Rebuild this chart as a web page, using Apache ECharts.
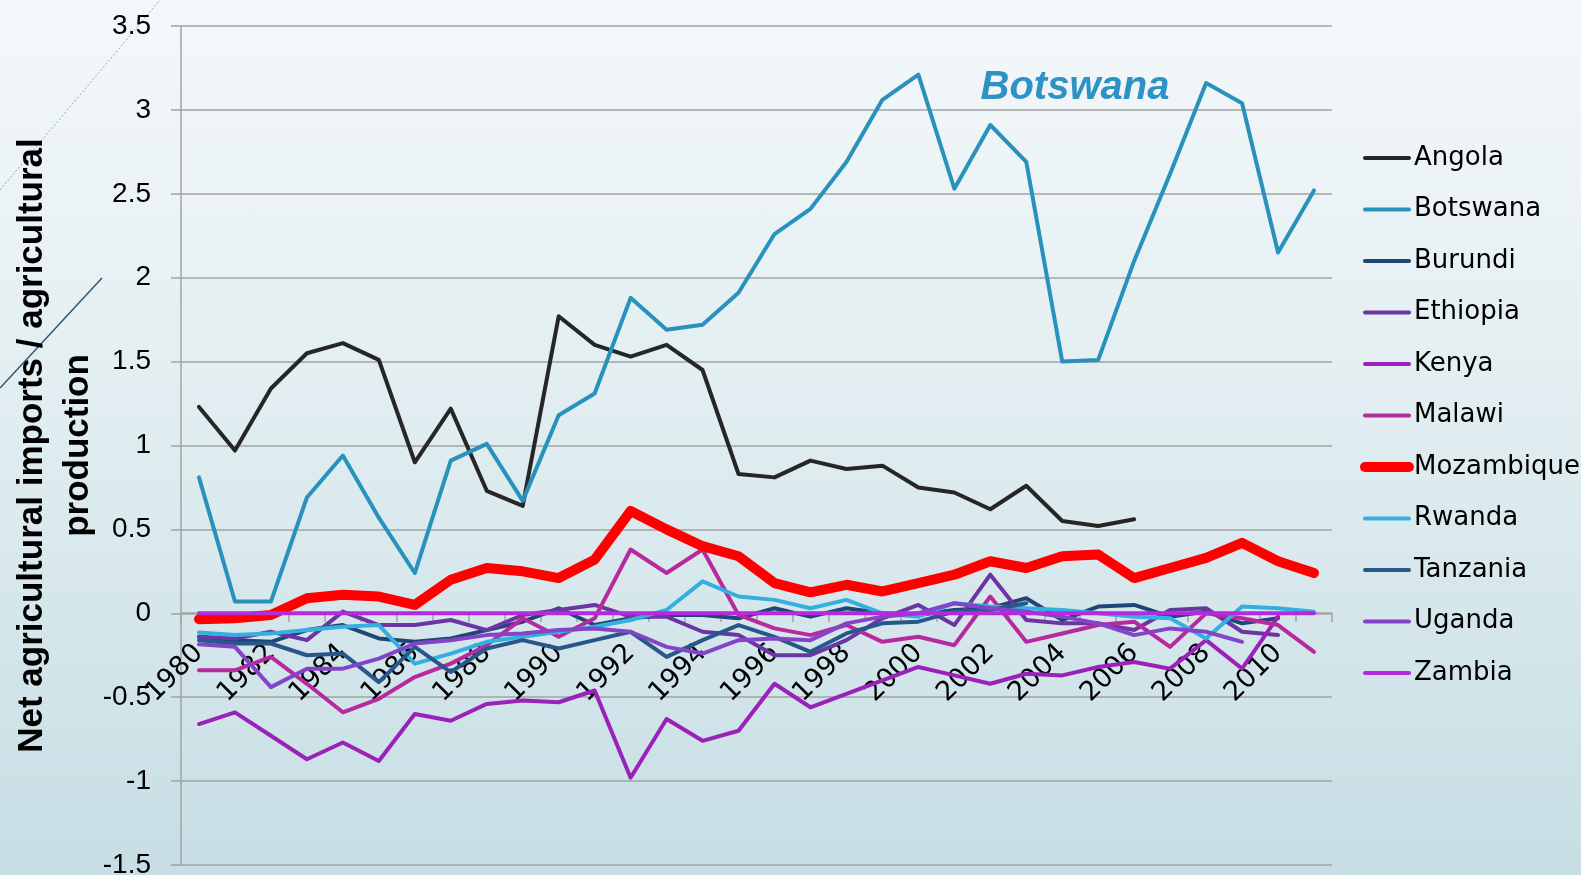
<!DOCTYPE html>
<html>
<head>
<meta charset="utf-8">
<script src="https://cdn.jsdelivr.net/npm/echarts@6/dist/echarts.min.js"></script>
<style>
    html, body { margin: 0; padding: 0; }
    .chart {
        width: 1581px;
        height: 875px;
        background: linear-gradient(to bottom, #f4f8fa 0%, #e2eef1 45%, #c6dee4 100%);
    }
</style>
</head>
<body>
<div class="chart" id="chart-line"></div>
<script>
// years on the category axis
const years = ['1980', '1981', '1982', '1983', '1984', '1985', '1986', '1987', '1988', '1989',
    '1990', '1991', '1992', '1993', '1994', '1995', '1996', '1997', '1998', '1999',
    '2000', '2001', '2002', '2003', '2004', '2005', '2006', '2007', '2008', '2009',
    '2010', '2011']

// net agricultural imports / agricultural production
const angola = [1.23, 0.97, 1.34, 1.55, 1.61, 1.51, 0.90, 1.22, 0.73, 0.64, 1.77, 1.60, 1.53, 1.60, 1.45, 0.83,
    0.81, 0.91, 0.86, 0.88, 0.75, 0.72, 0.62, 0.76, 0.55, 0.52, 0.56, null, null, null, null, null]
const botswana = [0.81, 0.07, 0.07, 0.69, 0.94, 0.57, 0.24, 0.91, 1.01, 0.67, 1.18, 1.31, 1.88, 1.69, 1.72, 1.91,
    2.26, 2.41, 2.69, 3.06, 3.21, 2.53, 2.91, 2.69, 1.50, 1.51, 2.10, 2.62, 3.16, 3.04, 2.15, 2.52]
const burundi = [-0.14, -0.16, -0.17, -0.10, -0.07, -0.15, -0.17, -0.15, -0.10, -0.05, 0.03, -0.07, -0.03, -0.01, -0.01, -0.03,
    0.03, -0.02, 0.03, 0.00, -0.01, 0.02, 0.03, 0.09, -0.04, 0.04, 0.05, -0.02, 0.01, -0.06, -0.03, null]
const ethiopia = [-0.14, -0.15, -0.11, -0.16, 0.01, -0.07, -0.07, -0.04, -0.10, -0.01, 0.02, 0.05, -0.02, -0.02, -0.11, -0.13,
    -0.25, -0.25, -0.16, -0.03, 0.05, -0.07, 0.23, -0.04, -0.06, -0.06, -0.10, 0.02, 0.03, -0.11, -0.13, null]
const kenya = [-0.66, -0.59, -0.73, -0.87, -0.77, -0.88, -0.60, -0.64, -0.54, -0.52, -0.53, -0.46, -0.98, -0.63, -0.76, -0.70,
    -0.42, -0.56, -0.48, -0.40, -0.32, -0.37, -0.42, -0.36, -0.37, -0.32, -0.29, -0.33, -0.16, -0.33, -0.02, null]
const malawi = [-0.34, -0.34, -0.26, -0.42, -0.59, -0.51, -0.38, -0.30, -0.19, -0.03, -0.14, -0.03, 0.38, 0.24, 0.38, -0.01,
    -0.09, -0.13, -0.07, -0.17, -0.14, -0.19, 0.10, -0.17, -0.12, -0.07, -0.05, -0.20, 0.00, -0.03, -0.07, -0.23]
const mozambique = [-0.035, -0.03, -0.01, 0.09, 0.11, 0.10, 0.05, 0.20, 0.27, 0.25, 0.21, 0.32, 0.61, 0.50, 0.40, 0.34,
    0.18, 0.125, 0.17, 0.13, 0.18, 0.23, 0.31, 0.27, 0.34, 0.35, 0.21, 0.27, 0.33, 0.42, 0.31, 0.24]
const rwanda = [-0.115, -0.13, -0.12, -0.10, -0.08, -0.07, -0.30, -0.24, -0.17, -0.14, -0.11, -0.08, -0.04, 0.02, 0.19, 0.10,
    0.08, 0.03, 0.08, 0.00, -0.02, 0.06, 0.04, 0.03, 0.02, 0.00, -0.02, -0.03, -0.15, 0.04, 0.03, 0.01]
const tanzania = [-0.16, -0.18, -0.18, -0.25, -0.24, -0.41, -0.20, -0.35, -0.21, -0.16, -0.21, -0.16, -0.11, -0.26, -0.16, -0.07,
    -0.14, -0.23, -0.12, -0.06, -0.05, 0.01, 0.02, 0.06, null, null, null, null, null, null, null, null]
const uganda = [-0.185, -0.20, -0.44, -0.33, -0.33, -0.27, -0.18, -0.16, -0.13, -0.12, -0.10, -0.09, -0.11, -0.20, -0.24, -0.16,
    -0.15, -0.16, -0.06, -0.02, 0.00, 0.06, 0.03, 0.01, -0.02, -0.06, -0.13, -0.09, -0.11, -0.17, null, null]
const zambia = [0, 0, 0, 0, 0, 0, 0, 0, 0, 0, 0, 0, 0, 0, 0, 0,
    0, 0, 0, 0, 0, 0, 0, 0, 0, 0, 0, 0, 0, 0, 0, 0]

const seriesList = [
    { name: 'Angola', value: angola, color: '#262626', width: 4 },
    { name: 'Botswana', value: botswana, color: '#2892bc', width: 4 },
    { name: 'Burundi', value: burundi, color: '#1f4677', width: 4 },
    { name: 'Ethiopia', value: ethiopia, color: '#6b35a3', width: 4 },
    { name: 'Kenya', value: kenya, color: '#9a22bb', width: 4 },
    { name: 'Malawi', value: malawi, color: '#b8299e', width: 4 },
    { name: 'Mozambique', value: mozambique, color: '#ff0000', width: 10 },
    { name: 'Rwanda', value: rwanda, color: '#33b0e0', width: 4 },
    { name: 'Tanzania', value: tanzania, color: '#27578b', width: 4 },
    { name: 'Uganda', value: uganda, color: '#8444c8', width: 4 },
    { name: 'Zambia', value: zambia, color: '#b52ade', width: 4 }
]

const gridColor = '#a3a3a3'
const textFont = '"DejaVu Sans", sans-serif'

function getLineOption(list) {
    let series = []
    list.forEach(item => {
        series.push({
            name: item.name,
            type: 'line',
            symbol: 'none',
            showSymbol: false,
            connectNulls: false,
            lineStyle: {
                color: item.color,
                width: item.width,
                cap: 'round',
                join: 'round'
            },
            itemStyle: {
                color: item.color
            },
            emphasis: { disabled: true },
            data: item.value
        })
    })
    let option = {
        animation: false,
        grid: {
            left: 181,
            right: 249,
            top: 26,
            bottom: 10,
            containLabel: false,
            outerBoundsMode: 'none'
        },
        legend: {
            orient: 'vertical',
            left: 1355,
            top: 140,
            itemWidth: 44,
            itemHeight: 14,
            itemGap: 25.5,
            selectedMode: false,
            itemStyle: {
                opacity: 0
            },
            textStyle: {
                color: '#000',
                fontSize: 26,
                fontFamily: textFont
            },
            data: list.map(item => ({
                name: item.name,
                lineStyle: { width: item.width, cap: 'round' }
            }))
        },
        graphic: [
            {
                type: 'text',
                x: 1075,
                y: 88,
                style: {
                    text: 'Botswana',
                    fill: '#2e93c4',
                    font: 'italic bold 40px "Liberation Sans", Arial, sans-serif',
                    textAlign: 'center',
                    textVerticalAlign: 'middle'
                }
            },
            {
                type: 'line',
                shape: { x1: 0, y1: 190, x2: 160, y2: 0 },
                style: { stroke: '#8fa6b4', lineWidth: 1, lineDash: [2, 2] }
            },
            {
                type: 'line',
                shape: { x1: 102, y1: 278, x2: 0, y2: 388 },
                style: { stroke: '#2d5672', lineWidth: 1.5 }
            }
        ],
        xAxis: {
            type: 'category',
            boundaryGap: true,
            data: years,
            // axis sits on the zero line of the value axis
            offset: -252,
            axisLine: {
                onZero: false,
                lineStyle: { color: gridColor, width: 1.5 }
            },
            axisTick: {
                show: true,
                interval: 0,
                length: 9,
                lineStyle: { color: gridColor, width: 1.5 }
            },
            axisLabel: {
                interval: 1,
                rotate: 45,
                margin: 36,
                padding: [56, 0, 0, 0],
                color: '#000',
                fontSize: 27,
                fontFamily: textFont
            },
            splitLine: { show: false }
        },
        yAxis: {
            type: 'value',
            min: -1.5,
            max: 3.5,
            interval: 0.5,
            name: 'Net agricultural imports / agricultural\nproduction',
            nameLocation: 'middle',
            nameGap: 80,
            nameMoveOverlap: false,
            nameTextStyle: {
                color: '#000',
                fontSize: 35,
                fontWeight: 'bold',
                lineHeight: 46,
                fontFamily: '"Liberation Sans", Arial, sans-serif'
            },
            axisLine: {
                show: true,
                lineStyle: { color: gridColor, width: 1.5 }
            },
            axisTick: {
                show: true,
                length: 10,
                lineStyle: { color: gridColor, width: 1.5 }
            },
            axisLabel: {
                margin: 30,
                color: '#000',
                fontSize: 28,
                fontFamily: '"Liberation Sans", Arial, sans-serif'
            },
            splitLine: {
                show: true,
                lineStyle: { color: gridColor, width: 1.5 }
            }
        },
        series: series
    }
    return option
}

const chart = echarts.init(document.getElementById('chart-line'), null, { renderer: 'canvas' })
chart.setOption(getLineOption(seriesList), true)
</script>
</body>
</html>
